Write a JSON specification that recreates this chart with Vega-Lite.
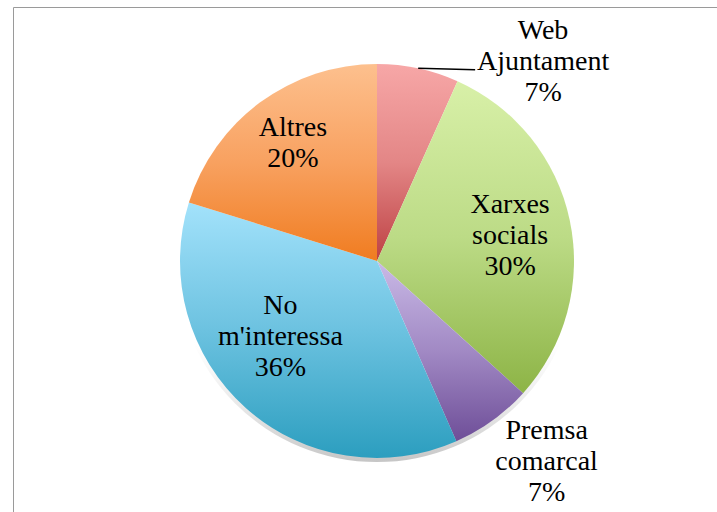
{
  "$schema": "https://vega.github.io/schema/vega-lite/v6.json",
  "width": 728,
  "height": 508,
  "autosize": "none",
  "padding": {"left": 13, "top": 7, "right": 0, "bottom": 0},
  "background": "white",
  "view": {"stroke": "#9a9a9a", "strokeWidth": 1},
  "config": {"view": {"stroke": "#9a9a9a", "strokeWidth": 1}},
  "data": {
    "values": [
      {"category": "Web Ajuntament", "value": 6.7, "order": 1},
      {"category": "Xarxes socials", "value": 30.0, "order": 2},
      {"category": "Premsa comarcal", "value": 6.7, "order": 3},
      {"category": "No m'interessa", "value": 36.4, "order": 4},
      {"category": "Altres", "value": 20.2, "order": 5}
    ]
  },
  "transform": [
    {"stack": "value", "groupby": [], "sort": [{"field": "order", "order": "ascending"}], "as": ["start", "end"]},
    {"calculate": "(datum.start + datum.end) / 2", "as": "mid"},
    {"calculate": "datum.category + ' ' + format(datum.value, '.0f') + '%'", "as": "label"}
  ],
  "layer": [
    {
      "transform": [{"aggregate": [{"op": "sum", "field": "value", "as": "total"}]}],
      "mark": {"type": "arc", "outerRadius": 201, "fill": {"gradient": "linear", "x1": 0, "y1": 0, "x2": 0, "y2": 1, "stops": [{"offset": 0, "color": "rgba(255,255,255,0)"}, {"offset": 0.7, "color": "rgba(210,210,210,0)"}, {"offset": 1, "color": "rgba(150,150,150,0.55)"}]}},
      "encoding": {"theta": {"field": "total", "type": "quantitative", "stack": true, "scale": {"domain": [0, 100]}}}
    },
    {
      "transform": [{"filter": "datum.category === 'Web Ajuntament'"}],
      "mark": {"type": "arc", "outerRadius": 197, "fill": {"gradient": "linear", "x1": 0, "y1": 0, "x2": 0, "y2": 1, "stops": [{"offset": 0, "color": "#f7a7a7"}, {"offset": 0.5, "color": "#e38686"}, {"offset": 1, "color": "#bd4143"}]}},
      "encoding": {"theta": {"field": "start", "type": "quantitative", "stack": null, "scale": {"domain": [0, 100]}}, "theta2": {"field": "end"}}
    },
    {
      "transform": [{"filter": "datum.category === 'Xarxes socials'"}],
      "mark": {"type": "arc", "outerRadius": 197, "fill": {"gradient": "linear", "x1": 0, "y1": 0, "x2": 0, "y2": 1, "stops": [{"offset": 0, "color": "#d8f0a8"}, {"offset": 0.5, "color": "#bcdb86"}, {"offset": 1, "color": "#8db446"}]}},
      "encoding": {"theta": {"field": "start", "type": "quantitative", "stack": null, "scale": {"domain": [0, 100]}}, "theta2": {"field": "end"}}
    },
    {
      "transform": [{"filter": "datum.category === 'Premsa comarcal'"}],
      "mark": {"type": "arc", "outerRadius": 197, "fill": {"gradient": "linear", "x1": 0, "y1": 0, "x2": 0, "y2": 1, "stops": [{"offset": 0, "color": "#c9b9e6"}, {"offset": 0.5, "color": "#a189c4"}, {"offset": 1, "color": "#6e4e98"}]}},
      "encoding": {"theta": {"field": "start", "type": "quantitative", "stack": null, "scale": {"domain": [0, 100]}}, "theta2": {"field": "end"}}
    },
    {
      "transform": [{"filter": "datum.category === \"No m'interessa\""}],
      "mark": {"type": "arc", "outerRadius": 197, "fill": {"gradient": "linear", "x1": 0, "y1": 0, "x2": 0, "y2": 1, "stops": [{"offset": 0, "color": "#a3e2fb"}, {"offset": 0.5, "color": "#6cc2e0"}, {"offset": 1, "color": "#2c9ebf"}]}},
      "encoding": {"theta": {"field": "start", "type": "quantitative", "stack": null, "scale": {"domain": [0, 100]}}, "theta2": {"field": "end"}}
    },
    {
      "transform": [{"filter": "datum.category === 'Altres'"}],
      "mark": {"type": "arc", "outerRadius": 197, "fill": {"gradient": "linear", "x1": 0, "y1": 0, "x2": 0, "y2": 1, "stops": [{"offset": 0, "color": "#fdc08e"}, {"offset": 0.5, "color": "#f8a160"}, {"offset": 1, "color": "#f07c20"}]}},
      "encoding": {"theta": {"field": "start", "type": "quantitative", "stack": null, "scale": {"domain": [0, 100]}}, "theta2": {"field": "end"}}
    },
    {
      "transform": [{"filter": "datum.category === 'Web Ajuntament'"}],
      "mark": {"type": "rule", "color": "#000000", "strokeWidth": 1.5},
      "encoding": {
        "x": {"value": {"expr": "width/2 + 197*sin(datum.mid*PI/50)"}},
        "y": {"value": {"expr": "height/2 - 197*cos(datum.mid*PI/50)"}},
        "x2": {"value": {"expr": "width/2 + 197*sin(datum.mid*PI/50) + 57"}},
        "y2": {"value": {"expr": "height/2 - 197*cos(datum.mid*PI/50) + 1.5"}}
      }
    },
    {
      "transform": [{"filter": "datum.category === 'Web Ajuntament'"}],
      "mark": {"type": "text", "radius": 230, "dx": 118, "dy": -5, "font": "Liberation Serif", "fontSize": 28, "lineHeight": 31, "lineBreak": " ", "align": "center", "baseline": "middle", "color": "#000000"},
      "encoding": {"theta": {"field": "mid", "type": "quantitative", "stack": null, "scale": {"domain": [0, 100]}}, "text": {"field": "label"}}
    },
    {
      "transform": [{"filter": "datum.category === 'Xarxes socials'"}],
      "mark": {"type": "text", "radius": 135, "dx": 1, "dy": -28, "font": "Liberation Serif", "fontSize": 28, "lineHeight": 31, "lineBreak": " ", "align": "center", "baseline": "middle", "color": "#000000"},
      "encoding": {"theta": {"field": "mid", "type": "quantitative", "stack": null, "scale": {"domain": [0, 100]}}, "text": {"field": "label"}}
    },
    {
      "transform": [{"filter": "datum.category === 'Premsa comarcal'"}],
      "mark": {"type": "text", "radius": 230, "dx": 35, "dy": -16, "font": "Liberation Serif", "fontSize": 28, "lineHeight": 31, "lineBreak": " ", "align": "center", "baseline": "middle", "color": "#000000"},
      "encoding": {"theta": {"field": "mid", "type": "quantitative", "stack": null, "scale": {"domain": [0, 100]}}, "text": {"field": "label"}}
    },
    {
      "transform": [{"filter": "datum.category === \"No m'interessa\""}],
      "mark": {"type": "text", "radius": 130, "dx": -10, "dy": -52, "font": "Liberation Serif", "fontSize": 28, "lineHeight": 31, "lineBreak": " ", "align": "center", "baseline": "middle", "color": "#000000"},
      "encoding": {"theta": {"field": "mid", "type": "quantitative", "stack": null, "scale": {"domain": [0, 100]}}, "text": {"field": "label"}}
    },
    {
      "transform": [{"filter": "datum.category === 'Altres'"}],
      "mark": {"type": "text", "radius": 130, "dx": -7, "dy": -28, "font": "Liberation Serif", "fontSize": 28, "lineHeight": 31, "lineBreak": " ", "align": "center", "baseline": "middle", "color": "#000000"},
      "encoding": {"theta": {"field": "mid", "type": "quantitative", "stack": null, "scale": {"domain": [0, 100]}}, "text": {"field": "label"}}
    }
  ]
}
